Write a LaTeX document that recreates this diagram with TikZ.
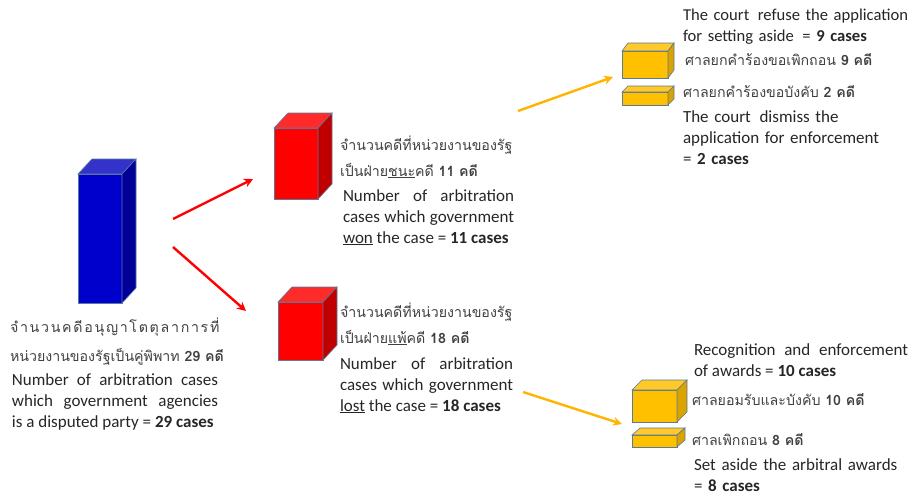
\documentclass[tikz,border=0pt]{standalone}
\usepackage{fontspec}
\setmainfont{Carlito}
\newfontfamily\thai[Script=Thai]{Loma}
\newfontfamily\thaiwide[Script=Thai,LetterSpace=12]{Loma}
\usetikzlibrary{arrows.meta}
\definecolor{bluefront}{HTML}{0000CC}
\definecolor{bluetop}{HTML}{3333CC}
\definecolor{blueside}{HTML}{000099}
\definecolor{redfront}{HTML}{FF0000}
\definecolor{redtop}{HTML}{FF2A2A}
\definecolor{redside}{HTML}{C00000}
\definecolor{yelfront}{HTML}{FFC000}
\definecolor{yeltop}{HTML}{FFC929}
\definecolor{yelside}{HTML}{D9A300}
\definecolor{edgec}{HTML}{5A7A9A}
\definecolor{txt}{HTML}{262626}
\definecolor{thtxt}{HTML}{404040}
\definecolor{arrred}{HTML}{FF0000}
\definecolor{arryel}{HTML}{FFB400}
\tikzset{
  edgeln/.style={draw=edgec, line width=0.6pt},
  entext/.style={inner sep=0pt, outer sep=0pt, anchor=base west, align=justify,
     text=txt, font=\fontsize{17}{21}\selectfont},
  enleft/.style={inner sep=0pt, outer sep=0pt, anchor=base west, align=left,
     text width=300pt, text=txt, font=\fontsize{17}{21}\selectfont},
  thtext/.style={inner sep=0pt, outer sep=0pt, anchor=base west, align=left,
     text=thtxt, font=\thai\fontsize{14.2}{27}\selectfont},
  redarrow/.style={draw=arrred, line width=2.4pt, -{Stealth[length=9pt,width=9pt]}},
  yelarrow/.style={draw=arryel, line width=2.4pt, -{Stealth[length=9pt,width=9pt]}},
}
% name, x, y (top-left of front face), w, h, dx, dy, colour prefix
\newcommand\mycuboid[8]{%
  \node[edgeln, fill=#8front, minimum width=#4pt, minimum height=#5pt,
        inner sep=0pt, outer sep=0pt, anchor=north west] (#1) at (#2,#3) {};
  \filldraw[edgeln, fill=#8top] (#1.north west) -- ++(#6pt,#7pt) -- ++(#4pt,0pt)
      -- (#1.north east) -- cycle;
  \filldraw[edgeln, fill=#8side] (#1.north east) -- ++(#6pt,#7pt) -- ++(0pt,-#5pt)
      -- (#1.south east) -- cycle;
}
\begin{document}
\begin{tikzpicture}[x=1pt, y=-1pt]
\useasboundingbox (0,0) rectangle (912,498);

% boxes
\mycuboid{total}{78}{174}{44}{129}{14}{15}{blue}
\mycuboid{won}{274}{128}{44}{71}{14}{15}{red}
\mycuboid{lost}{278}{302}{45}{58}{14}{15}{red}
\mycuboid{refuse}{622}{51}{46}{27}{6}{8}{yel}
\mycuboid{dismiss}{622}{92}{46}{13}{6}{6}{yel}
\mycuboid{enforce}{632}{390}{45}{32}{10}{10}{yel}
\mycuboid{setaside}{632}{435}{45}{12}{8}{7}{yel}

% arrows
\coordinate (a1s) at (173,219);
\coordinate (a1e) at (253,179);
\coordinate (a2s) at (173,247);
\coordinate (a2e) at (246,311);
\coordinate (a3s) at (518,111);
\coordinate (a3e) at (613,77);
\coordinate (a4s) at (523,392);
\coordinate (a4e) at (622,424);
\draw[redarrow] (a1s) -- (a1e);
\draw[redarrow] (a2s) -- (a2e);
\draw[yelarrow] (a3s) -- (a3e);
\draw[yelarrow] (a4s) -- (a4e);

% left text
\node[thtext, font=\thaiwide\fontsize{14.2}{27}\selectfont] (tth1) at (10,332) {จำนวนคดีอนุญาโตตุลาการที่};
\node[thtext] (tth2) at (10,361) {หน่วยงานของรัฐเป็นคู่พิพาท \textbf{29 คดี}};
\node[entext, text width=206pt] (ten) at (12,385)
  {Number of arbitration cases which government agencies\linebreak is a disputed party = \textbf{29 cases}};

% won text
\node[thtext] (wth1) at (340,150) {จำนวนคดีที่หน่วยงานของรัฐ};
\node[thtext] (wth2) at (340,176) {เป็นฝ่าย\underline{ชนะ}คดี \textbf{11 คดี}};
\node[entext, text width=171pt] (wen) at (343,201)
  {Number of arbitration cases which government \underline{won} the case = \textbf{11 cases}};

% lost text
\node[thtext] (lth1) at (340,317) {จำนวนคดีที่หน่วยงานของรัฐ};
\node[thtext] (lth2) at (340,343) {เป็นฝ่าย\underline{แพ้}คดี \textbf{18 คดี}};
\node[entext, text width=173pt] (len) at (340,369)
  {Number of arbitration cases which government \underline{lost} the case = \textbf{18 cases}};

% top right
\node[enleft, font=\fontsize{16.6}{21}\selectfont] (ren) at (683,20)
  {The court\hspace{3pt} refuse the application\\for setting aside\hspace{3pt} = \textbf{9 cases}};
\node[thtext] (rth) at (685,65) {ศาลยกคำร้องขอเพิกถอน \textbf{9 คดี}};
\node[thtext] (dth) at (683,97) {ศาลยกคำร้องขอบังคับ \textbf{2 คดี}};
\node[enleft] (den) at (683,122)
  {The court\hspace{3pt} dismiss the\\application for enforcement\\= \textbf{2 cases}};

% bottom right
\node[entext, text width=214pt] (een) at (694,355)
  {Recognition and enforcement of awards = \textbf{10 cases}};
\node[thtext] (eth) at (692,405) {ศาลยอมรับและบังคับ \textbf{10 คดี}};
\node[thtext] (sth) at (692,445) {ศาลเพิกถอน \textbf{8 คดี}};
\node[enleft] (sen) at (694,470)
  {Set aside the arbitral awards\\= \textbf{8 cases}};
\end{tikzpicture}
\end{document}
